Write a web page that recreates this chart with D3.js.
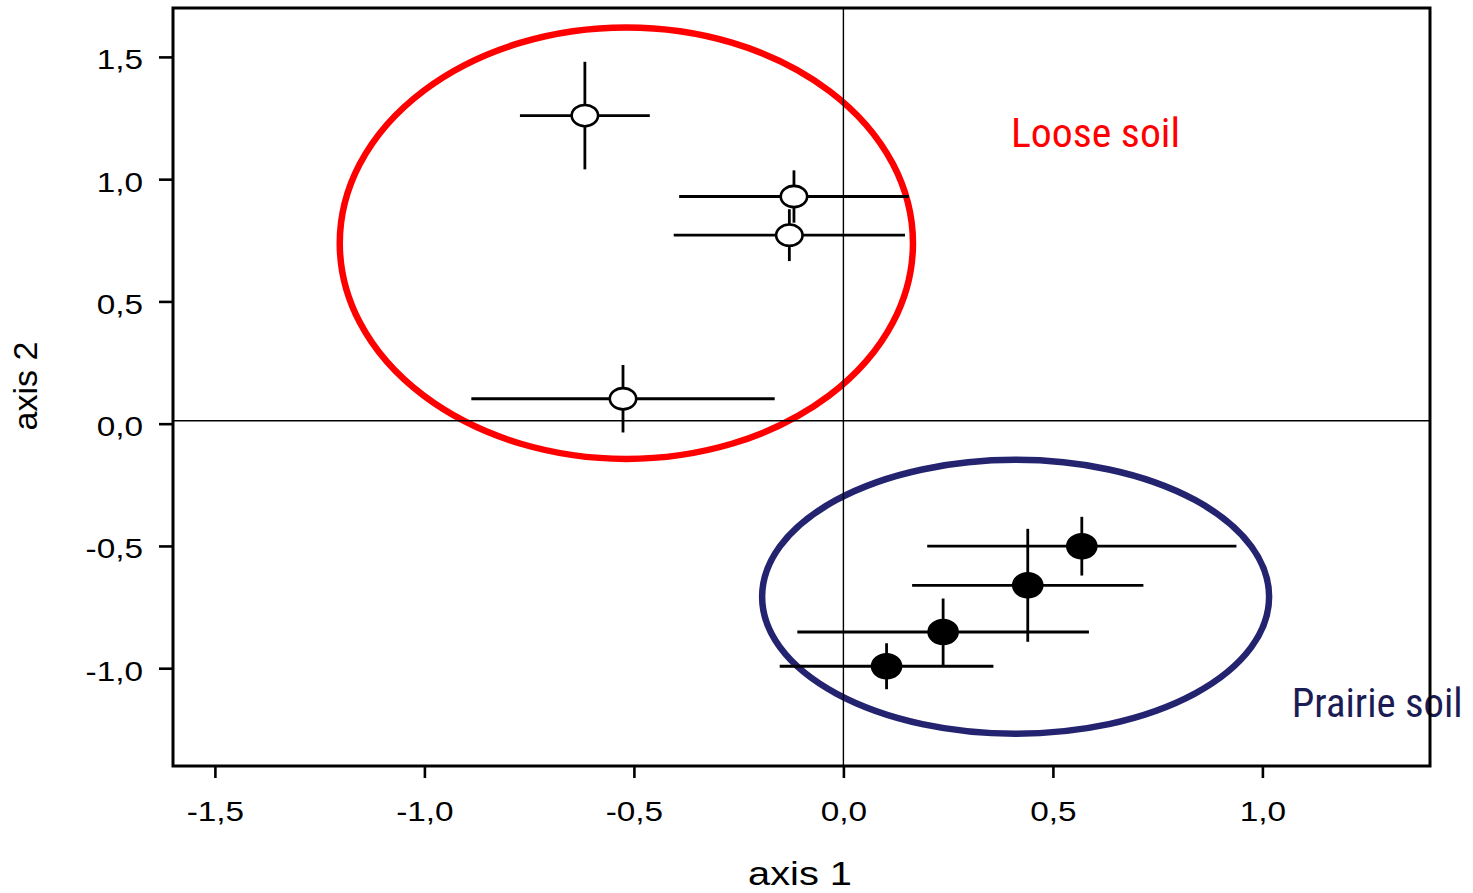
<!DOCTYPE html>
<html>
<head>
<meta charset="utf-8">
<script src="https://cdn.jsdelivr.net/npm/d3@7"></script>
<style>
  html, body { margin: 0; padding: 0; background: #fff; }
  svg { display: block; }
  .lib { font-family: "Liberation Sans", Arimo, Arial, Helvetica, Roboto, sans-serif; }
  .nar { font-family: "Liberation Sans Narrow", "Arial Narrow", "Roboto Condensed", "Liberation Sans", Arial, sans-serif; }
</style>
</head>
<body>
<svg id="chart" width="1473" height="893"></svg>
<script>
// ---------- data ----------
const xTicks = [-1.5, -1.0, -0.5, 0.0, 0.5, 1.0];
const yTicks = [-1.0, -0.5, 0.0, 0.5, 1.0, 1.5];

// Loose soil (open circles)
const looseX    = [-0.617, -0.118, -0.129, -0.526];
const looseY    = [ 1.260,  0.929,  0.771,  0.102];
const looseXErr = [ 0.155,  0.274,  0.276,  0.362];
const looseYErr = [ 0.220,  0.107,  0.106,  0.138];

// Prairie soil (filled circles)
const prairieX    = [ 0.103,  0.238,  0.440,  0.569];
const prairieY    = [-0.992, -0.852, -0.661, -0.501];
const prairieXErr = [ 0.255,  0.348,  0.276,  0.369];
const prairieYErr = [ 0.094,  0.137,  0.231,  0.120];

// Group ellipses and labels
const groupNames = ["Loose soil", "Prairie soil"];
const ellipseCx  = [-0.518,  0.411];
const ellipseCy  = [ 0.738, -0.708];
const ellipseRx  = [ 0.684,  0.605];
const ellipseRy  = [ 0.882,  0.560];
const labelX     = [ 0.400,  1.070];
const labelY     = [ 1.130, -1.200];

const xDomain = [-1.6, 1.4];
const yDomain = [-1.4, 1.7];
const refX = 0.0, refY = 0.012;

// ---------- layout ----------
const W = 1473, H = 893;
const margin = {left: 173, top: 8, right: 43, bottom: 127};
const iw = W - margin.left - margin.right;
const ih = H - margin.top - margin.bottom;
const sx = 1.17; // horizontal text stretch of the reference

const svg = d3.select("#chart");
const g = svg.append("g").attr("transform", `translate(${margin.left},${margin.top})`);

const x = d3.scaleLinear().domain(xDomain).range([0, iw]);
const y = d3.scaleLinear().domain(yDomain).range([ih, 0]);

const fmt = d => d.toFixed(1).replace(".", ",");
const groupColors = ["#ff0000", "#232370"];
const labelColors = ["#ff0000", "#1c1c55"];
const labelWidths = [169, 171];

// ellipses
groupNames.forEach((n, i) => {
  g.append("ellipse")
    .attr("cx", x(ellipseCx[i]))
    .attr("cy", y(ellipseCy[i]))
    .attr("rx", x(ellipseCx[i] + ellipseRx[i]) - x(ellipseCx[i]))
    .attr("ry", y(ellipseCy[i] - ellipseRy[i]) - y(ellipseCy[i]))
    .attr("fill", "none")
    .attr("stroke", groupColors[i])
    .attr("stroke-width", 6.5);
});

// reference lines
g.append("line").attr("x1", x(refX)).attr("x2", x(refX)).attr("y1", 0).attr("y2", ih)
  .attr("stroke", "#000").attr("stroke-width", 1.4);
g.append("line").attr("x1", 0).attr("x2", iw).attr("y1", y(refY)).attr("y2", y(refY))
  .attr("stroke", "#000").attr("stroke-width", 1.4);

// labels
groupNames.forEach((n, i) => {
  g.append("text")
    .attr("class", "nar")
    .attr("x", x(labelX[i]))
    .attr("y", y(labelY[i]))
    .attr("font-size", 41)
    .attr("fill", labelColors[i])
    .attr("textLength", labelWidths[i])
    .attr("lengthAdjust", "spacingAndGlyphs")
    .text(n);
});

// error bars + points
function drawSeries(xs, ys, xe, ye, filled) {
  const data = xs.map((v, i) => ({x: v, y: ys[i], xe: xe[i], ye: ye[i]}));
  const s = g.append("g");
  s.selectAll("line.h").data(data).join("line")
    .attr("x1", d => x(d.x - d.xe)).attr("x2", d => x(d.x + d.xe))
    .attr("y1", d => y(d.y)).attr("y2", d => y(d.y))
    .attr("stroke", "#000").attr("stroke-width", 2.8);
  s.selectAll("line.v").data(data).join("line")
    .attr("x1", d => x(d.x)).attr("x2", d => x(d.x))
    .attr("y1", d => y(d.y + d.ye)).attr("y2", d => y(d.y - d.ye))
    .attr("stroke", "#000").attr("stroke-width", 2.8);
  s.selectAll("ellipse").data(data).join("ellipse")
    .attr("cx", d => x(d.x)).attr("cy", d => y(d.y))
    .attr("rx", filled ? 14.5 : 13.2).attr("ry", filled ? 12 : 10.6)
    .attr("fill", filled ? "#000" : "#fff")
    .attr("stroke", "#000").attr("stroke-width", 2.6);
}
drawSeries(looseX, looseY, looseXErr, looseYErr, false);
drawSeries(prairieX, prairieY, prairieXErr, prairieYErr, true);

// axes
const xAxis = g.append("g").attr("transform", `translate(0,${ih})`)
  .call(d3.axisBottom(x).tickValues(xTicks).tickFormat(fmt).tickSize(12));
xAxis.attr("font-family", null);
xAxis.select(".domain").remove();
xAxis.selectAll("line").attr("stroke-width", 2.6);
xAxis.selectAll("text")
  .attr("class", "lib").attr("font-size", 28.5).attr("fill", "#000")
  .attr("y", 55).attr("dy", 0)
  .attr("transform", `scale(${sx},1)`);

const yAxis = g.append("g")
  .call(d3.axisLeft(y).tickValues(yTicks).tickFormat(fmt).tickSize(14));
yAxis.attr("font-family", null);
yAxis.select(".domain").remove();
yAxis.selectAll("line").attr("stroke-width", 2.6);
yAxis.selectAll("text")
  .attr("class", "lib").attr("font-size", 28.5).attr("fill", "#000")
  .attr("x", -30 / sx).attr("y", 12).attr("dy", 0)
  .attr("transform", `scale(${sx},1)`);

// frame
g.append("rect").attr("x", 0).attr("y", 0).attr("width", iw).attr("height", ih)
  .attr("fill", "none").attr("stroke", "#000").attr("stroke-width", 3);

// axis titles
svg.append("text")
  .attr("class", "lib")
  .attr("transform", `translate(800,885) scale(${sx},1)`)
  .attr("text-anchor", "middle")
  .attr("font-size", 34).attr("fill", "#000")
  .text("axis 1");
svg.append("text")
  .attr("class", "lib")
  .attr("transform", `translate(37,386) rotate(-90)`)
  .attr("text-anchor", "middle")
  .attr("font-size", 34).attr("fill", "#000")
  .text("axis 2");
</script>
</body>
</html>
